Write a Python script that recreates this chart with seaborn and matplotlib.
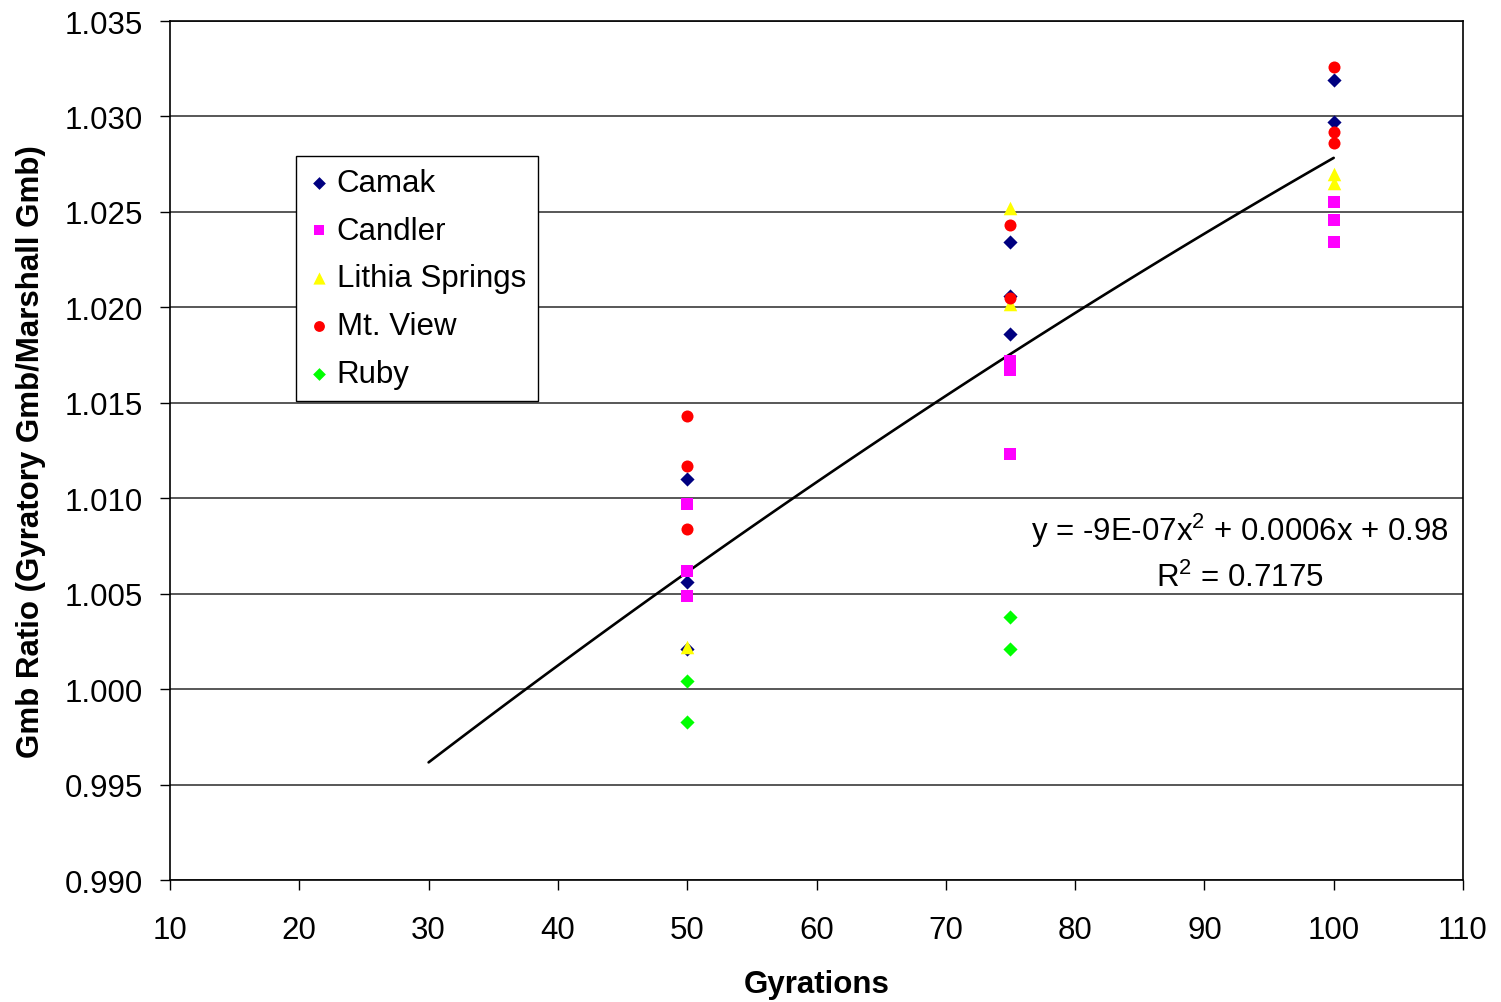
import numpy as np
import pandas as pd
import matplotlib
matplotlib.use("Agg")
import matplotlib.pyplot as plt
import seaborn as sns

# ---- data ---------------------------------------------------------------
mixes = ["Camak", "Candler", "Lithia Springs", "Mt. View", "Ruby"]

camak_gyr = [50, 50, 50, 75, 75, 75, 100, 100]
camak_ratio = [1.0110, 1.0056, 1.0021, 1.0234, 1.0206, 1.0186, 1.0319, 1.0297]

candler_gyr = [50, 50, 50, 75, 75, 75, 100, 100, 100]
candler_ratio = [1.0097, 1.0062, 1.0049, 1.0172, 1.0167, 1.0123, 1.0255, 1.0246, 1.0234]

lithia_gyr = [50, 75, 75, 100, 100]
lithia_ratio = [1.0022, 1.0252, 1.0202, 1.0270, 1.0265]

mtview_gyr = [50, 50, 50, 75, 75, 100, 100, 100]
mtview_ratio = [1.0143, 1.0117, 1.0084, 1.0243, 1.0205, 1.0326, 1.0292, 1.0286]

ruby_gyr = [50, 50, 75, 75]
ruby_ratio = [1.0004, 0.9983, 1.0038, 1.0021]

# second-order trend: a*x^2 + b*x + c, drawn from 30 to 100 gyrations
trend_coef = [-9.2e-7, 5.72e-4, 0.97983]
trend_x = np.arange(30, 101, 1)
trend_label = "y = -9E-07x$^{2}$ + 0.0006x + 0.98\nR$^{2}$ = 0.7175"

mix_colors = ["#000080", "#FF00FF", "#FFFF00", "#FF0000", "#00FF00"]
mix_markers = ["D", "s", "^", "o", "D"]
mix_sizes = [52, 68, 95, 75, 52]

x_ticks = list(range(10, 111, 10))
y_ticks = [0.990, 0.995, 1.000, 1.005, 1.010, 1.015, 1.020, 1.025, 1.030, 1.035]

frames = []
for name, g, r in zip(mixes,
                      [camak_gyr, candler_gyr, lithia_gyr, mtview_gyr, ruby_gyr],
                      [camak_ratio, candler_ratio, lithia_ratio, mtview_ratio, ruby_ratio]):
    frames.append(pd.DataFrame({"Gyrations": g, "Ratio": r, "Mix": name}))
df = pd.concat(frames, ignore_index=True)

# ---- style --------------------------------------------------------------
sns.set_theme(style="white")
plt.rcParams["font.family"] = ["Liberation Sans", "DejaVu Sans"]
plt.rcParams["mathtext.fontset"] = "custom"
plt.rcParams["mathtext.rm"] = "Liberation Sans"
plt.rcParams["mathtext.it"] = "Liberation Sans"
plt.rcParams["text.color"] = "black"
plt.rcParams["axes.labelcolor"] = "black"
plt.rcParams["xtick.color"] = "black"
plt.rcParams["ytick.color"] = "black"

FS = 22.5
W, H = 1501, 1003
fig = plt.figure(figsize=(W / 100, H / 100), dpi=100)
ax = fig.add_axes([170 / W, 1 - 881 / H, (1463 - 170) / W, (881 - 22) / H])

# trend line
trend_y = np.polyval(trend_coef, trend_x)
sns.lineplot(x=trend_x, y=trend_y, color="black", lw=1.9, ax=ax, zorder=2,
             legend=False)

# mixes
for name, col, mk, sz in zip(mixes, mix_colors, mix_markers, mix_sizes):
    sub = df[df["Mix"] == name]
    sns.scatterplot(data=sub, x="Gyrations", y="Ratio", color=col, marker=mk,
                    s=sz, linewidth=0, ax=ax, label=name, zorder=3)

ax.set_xlim(10, 110)
ax.set_ylim(0.990, 1.035)
ax.set_xticks(x_ticks)
ax.set_yticks(y_ticks)
ax.set_yticklabels([f"{v:.3f}" for v in y_ticks])
ax.tick_params(axis="both", direction="out", length=7.2, width=1.0,
               color="black", labelsize=FS, labelcolor="black")
ax.tick_params(axis="y", pad=12)
ax.tick_params(axis="x", pad=18)
ax.tick_params(left=True, bottom=True)

ax.yaxis.grid(True, color="#2a2a2a", lw=1.1)
ax.xaxis.grid(False)
ax.set_axisbelow(True)
for side in ["left", "bottom", "top", "right"]:
    ax.spines[side].set_visible(True)
    ax.spines[side].set_color("black")
    ax.spines[side].set_linewidth(1.2)

ax.set_xlabel("Gyrations", fontsize=FS, fontweight="bold", labelpad=17)
ax.set_ylabel("Gmb Ratio (Gyratory Gmb/Marshall Gmb)", fontsize=FS,
              fontweight="bold", labelpad=14)

ax.text(1240 / W, 1 - 553 / H, trend_label, transform=fig.transFigure,
        ha="center", va="center", fontsize=FS, linespacing=1.5)

leg = ax.legend(loc="upper left", bbox_to_anchor=(296 / W, 1 - 157 / H),
                bbox_transform=fig.transFigure, borderaxespad=0,
                frameon=True, fancybox=False, shadow=False, fontsize=FS,
                handlelength=0.7, handletextpad=0.22, borderpad=0.38,
                labelspacing=0.57, markerscale=0.9)
leg.get_frame().set_edgecolor("black")
leg.get_frame().set_linewidth(1.0)
leg.get_frame().set_alpha(1)

fig.savefig("out.png", dpi=100)
